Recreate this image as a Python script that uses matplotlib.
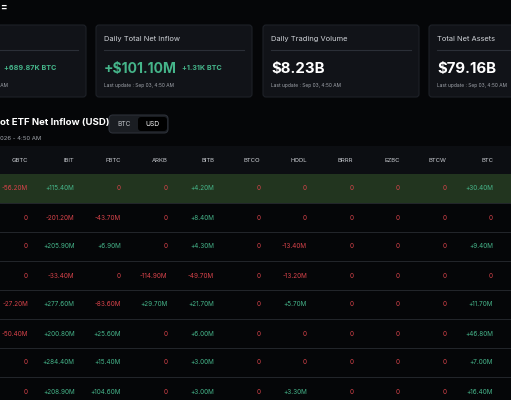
import matplotlib
matplotlib.use("Agg")
import matplotlib.pyplot as plt
from matplotlib.patches import FancyBboxPatch, Rectangle

plt.rcParams['font.family'] = ['Inter', 'DejaVu Sans']

tickers = ["GBTC", "IBIT", "FBTC", "ARKB", "BITB", "BTCO", "HODL", "BRRR", "EZBC", "BTCW", "BTC"]
flows = [
    [-56.2, 115.4, 0, 0, 4.2, 0, 0, 0, 0, 0, 30.4],
    [0, -201.2, -43.7, 0, 8.4, 0, 0, 0, 0, 0, 0],
    [0, 205.9, 6.9, 0, 4.3, 0, -13.4, 0, 0, 0, 9.4],
    [0, -33.4, 0, -114.9, -49.7, 0, -13.2, 0, 0, 0, 0],
    [-27.2, 277.6, -83.6, 29.7, 21.7, 0, 5.7, 0, 0, 0, 11.7],
    [-50.4, 200.8, 25.6, 0, 6.0, 0, 0, 0, 0, 0, 46.8],
    [0, 284.4, 15.4, 0, 3.0, 0, 0, 0, 0, 0, 7.0],
    [0, 208.9, 104.6, 0, 3.0, 0, 3.3, 0, 0, 0, 16.4],
]
card_titles = ["", "Daily Total Net Inflow", "Daily Trading Volume", "Total Net Assets"]
card_values = ["", "+$101.10M", "$8.23B", "$79.16B"]
card_subs = ["+689.87K BTC", "+1.31K BTC", "", ""]

BG = "#050608"; CARD = "#111318"; GREEN = "#45b58a"; RED = "#d8434a"

fig = plt.figure(figsize=(5.11, 4.0), dpi=100, facecolor=BG)
ax = fig.add_axes([0, 0, 1, 1])
ax.set_xlim(0, 511); ax.set_ylim(400, 0); ax.axis("off"); ax.set_facecolor(BG)

ax.text(0, 7, "=", color="white", fontsize=7, va="center", ha="left", weight="bold")

card_x = [-70, 96, 263, 429]
for i, cx in enumerate(card_x):
    ax.add_patch(FancyBboxPatch((cx, 25), 156, 72, boxstyle="round,pad=0,rounding_size=3",
                                fc=CARD, ec="#1e2128", lw=0.8))
    ax.plot([cx + 8, cx + 148], [49.5, 49.5], color="#2b2f37", lw=0.8)
    ax.text(cx + 8, 39, card_titles[i], color="#d0d3d8", fontsize=5.4, va="center")
    col = GREEN if card_values[i].startswith("+") else "white"
    fs = 10.0 if i == 1 else 10.8
    ax.text(cx + 8, 69, card_values[i], color=col, fontsize=fs, weight="bold", va="center")
    if card_subs[i]:
        subx = cx + 74 if i == 0 else cx + 86
        ax.text(subx, 68, card_subs[i], color=GREEN, fontsize=5.2, weight="bold", va="center")
    ax.text(cx + 8, 85, "Last update : Sep 03, 4:50 AM", color="#a0a4ab", fontsize=3.5, va="center")

ax.text(0, 123, "ot ETF Net Inflow (USD)", color="white", fontsize=6.9, weight="bold", va="center")
ax.add_patch(FancyBboxPatch((109, 115), 59, 18, boxstyle="round,pad=0,rounding_size=4",
                            fc="#1a1d22", ec="#2c3038", lw=0.8))
ax.add_patch(FancyBboxPatch((138, 117), 29, 14, boxstyle="round,pad=0,rounding_size=3",
                            fc="#000000", ec="none"))
ax.text(124, 124, "BTC", color="#c0c3c8", fontsize=4.8, ha="center", va="center")
ax.text(152.5, 124, "USD", color="white", fontsize=4.8, ha="center", va="center")
ax.text(0, 138, "026 - 4:50 AM", color="#a0a4ab", fontsize=4.3, va="center")

# table
ax.add_patch(Rectangle((0, 146), 511, 28, fc="#0c0e12", ec="none"))
col_x = [28 + i * 46.5 for i in range(len(tickers))]
for x, t in zip(col_x, tickers):
    ax.text(x, 160, t, color="#c8cbd0", fontsize=4.3, ha="right", va="center")

row_h = 29
for r, row in enumerate(flows):
    y0 = 174 + r * row_h
    if r == 0:
        ax.add_patch(Rectangle((0, y0), 511, row_h, fc="#22351f", ec="none"))
    else:
        ax.plot([0, 511], [y0, y0], color="#23262c", lw=0.7)
    for x, v in zip(col_x, row):
        if v > 0:
            s, c = f"+{v:.2f}M", GREEN
        elif v < 0:
            s, c = f"{v:.2f}M", RED
        else:
            s, c = "0", RED
        ax.text(x, y0 + row_h / 2, s, color=c, fontsize=4.6, ha="right", va="center")

fig.savefig("out.png", dpi=100, facecolor=BG)
